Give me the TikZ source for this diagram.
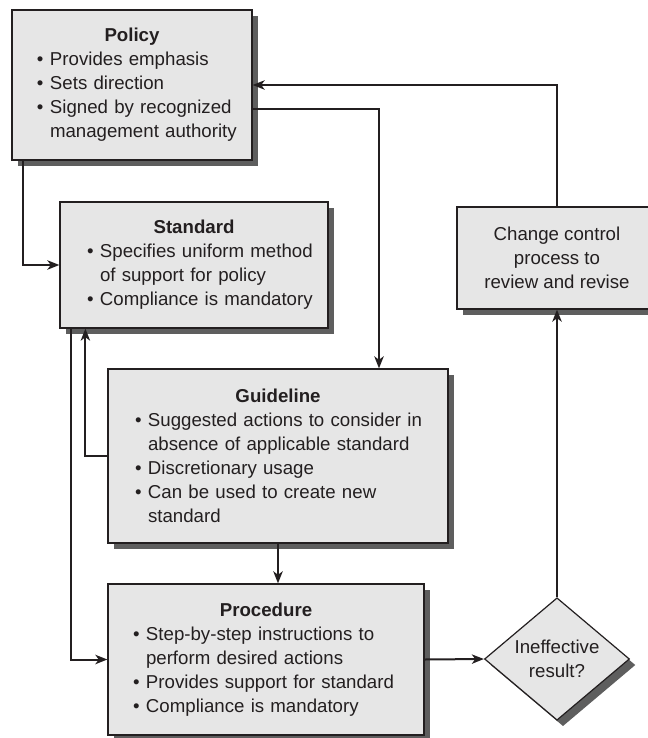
\documentclass[tikz,border=0pt]{standalone}
\usepackage{fontspec}
\setmainfont{Liberation Sans}
\usetikzlibrary{arrows.meta,shapes.geometric,shadows}
\definecolor{boxfill}{HTML}{E6E6E6}
\definecolor{shadowgray}{HTML}{5E5E5E}
\definecolor{ink}{HTML}{231F20}
% centred bold heading spanning the whole box
\newcommand{\boxtitle}[1]{\makebox[\linewidth]{\bfseries #1}\par}
% bullet item with hanging indent for wrapped lines
\newcommand{\bul}[1]{\hangindent=9.75pt\hangafter=1\noindent\makebox[9.75pt][l]{\textbullet}#1\par}

\begin{document}
\begin{tikzpicture}[x=0.75pt,y=-0.75pt,
  every node/.style={text=ink},
  panel/.style={rectangle, draw=ink, line width=0.9pt, fill=boxfill,
    inner sep=0pt, font=\fontsize{14pt}{18pt}\selectfont,
    drop shadow={shadow xshift=4.5pt, shadow yshift=-4.5pt, fill=shadowgray, opacity=1}},
  listbox/.style={panel, align=left},
  arr/.style={draw=ink, line width=1.5pt, -{Stealth[length=9pt,width=7pt,inset=2.5pt]}}]

\useasboundingbox (0,0) rectangle (648,738);
\clip (0,0) rectangle (648,738);

\node[listbox, text width=180pt, minimum height=112.5pt] (policy) at (132,85)
  {\boxtitle{Policy}\leftskip=18.75pt
   \bul{Provides emphasis}
   \bul{Sets direction}
   \bul{Signed by recognized\newline management authority}};

\node[listbox, text width=201pt, minimum height=94.5pt] (standard) at (194,265)
  {\boxtitle{Standard}\leftskip=20.25pt
   \bul{Specifies uniform method\newline of support for policy}
   \bul{Compliance is mandatory}};

\node[listbox, text width=255pt, minimum height=130.5pt] (guideline) at (278,456)
  {\boxtitle{Guideline}\leftskip=20.25pt
   \bul{Suggested actions to consider in\newline absence of applicable standard}
   \bul{Discretionary usage}
   \bul{Can be used to create new\newline standard}};

\node[listbox, text width=237pt, minimum height=113.25pt] (procedure) at (266,659.5)
  {\boxtitle{Procedure}\leftskip=18.75pt
   \bul{Step-by-step instructions to\newline perform desired actions}
   \bul{Provides support for standard}
   \bul{Compliance is mandatory}};

\node[panel, align=center, minimum width=150pt, minimum height=76.5pt] (change) at (557,258)
  {Change control\\process to\\review and revise};

\node[panel, shape=diamond, align=center, minimum width=108.75pt, minimum height=86.25pt] (decide) at (557,659)
  {Ineffective\\result?};

% connectors
\draw[arr] ([xshift=9pt]policy.south west) |- (standard.west);
\draw[arr] ([yshift=-18pt]policy.east) -| ([xshift=75.75pt]guideline.north);
\draw[arr] (change.north) |- (policy.east);
\draw[arr] (decide.north) -- (change.south);
\draw[arr] (procedure.east) -- (decide.west);
\draw[arr] (guideline.south) -- (guideline.south |- procedure.north);
\draw[arr] (guideline.west) -| ([xshift=19.5pt]standard.south west);
\draw[arr] ([xshift=9pt]standard.south west) |- (procedure.west);
\end{tikzpicture}
\end{document}
